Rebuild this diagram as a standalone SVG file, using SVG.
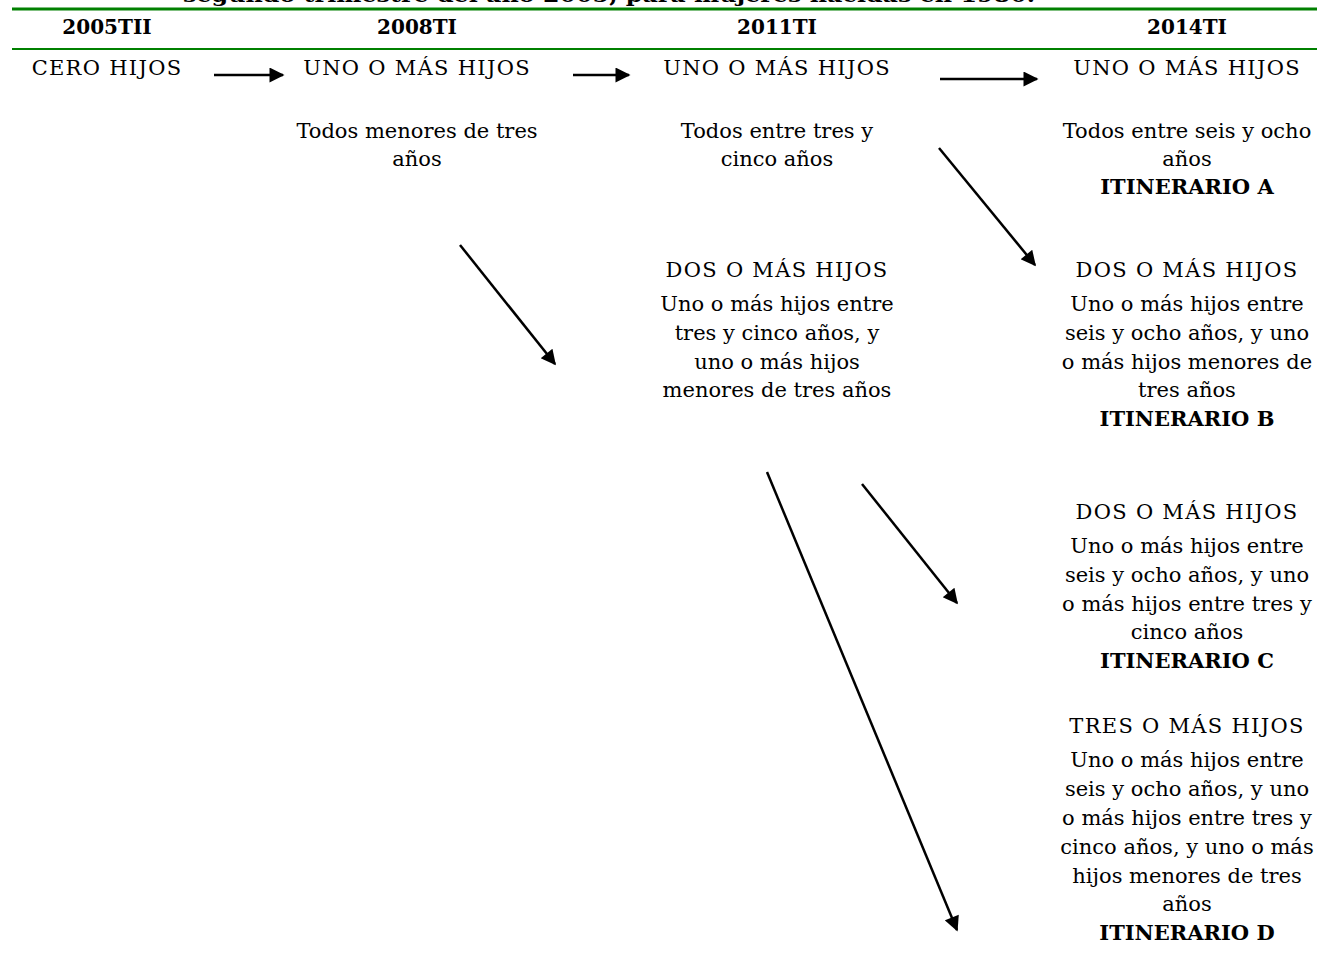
<svg xmlns="http://www.w3.org/2000/svg" width="1317" height="978" viewBox="0 0 1317 978">
<style>
text{font-family:"DejaVu Serif","Liberation Serif",serif;fill:#000;text-anchor:middle;}
.b{font-size:21px;}
.c{letter-spacing:1.3px;}
.h{font-size:20px;font-weight:bold;}
.it{font-size:21px;font-weight:bold;}
.con line{stroke:#000;stroke-width:2.5;}
</style>
<defs>
<marker id="ah" viewBox="0 0 10 10" refX="9" refY="5" markerWidth="7" markerHeight="6" markerUnits="strokeWidth" orient="auto">
<path d="M0,0L10,5L0,10z" fill="#000"/>
</marker>
</defs>
<rect width="1317" height="978" fill="#fff"/>
<text x="183" y="2" class="h" style="text-anchor:start" textLength="852" lengthAdjust="spacingAndGlyphs">segundo trimestre del año 2005, para mujeres nacidas en 1980.</text>
<line x1="12" y1="9" x2="1317" y2="9" stroke="#008000" stroke-width="3"/>
<line x1="12" y1="49" x2="1317" y2="49" stroke="#008000" stroke-width="2"/>
<g id="headers">
<text x="107" y="34" class="h">2005TII</text>
<text x="417" y="34" class="h">2008TI</text>
<text x="777" y="34" class="h">2011TI</text>
<text x="1187" y="34" class="h">2014TI</text>
</g>
<g id="n1"><text x="107" y="75" class="b c">CERO HIJOS</text></g>
<g id="n2">
<text x="417" y="75" class="b c">UNO O MÁS HIJOS</text>
<text x="417" y="138" class="b">Todos menores de tres</text>
<text x="417" y="166" class="b">años</text>
</g>
<g id="n3">
<text x="777" y="75" class="b c">UNO O MÁS HIJOS</text>
<text x="777" y="138" class="b">Todos entre tres y</text>
<text x="777" y="166" class="b">cinco años</text>
</g>
<g id="n4">
<text x="777" y="277" class="b c">DOS O MÁS HIJOS</text>
<text x="777" y="311" class="b">Uno o más hijos entre</text>
<text x="777" y="340" class="b">tres y cinco años, y</text>
<text x="777" y="369" class="b">uno o más hijos</text>
<text x="777" y="397" class="b">menores de tres años</text>
</g>
<g id="n5">
<text x="1187" y="75" class="b c">UNO O MÁS HIJOS</text>
<text x="1187" y="138" class="b">Todos entre seis y ocho</text>
<text x="1187" y="166" class="b">años</text>
<text x="1187" y="194" class="it">ITINERARIO A</text>
</g>
<g id="n6">
<text x="1187" y="277" class="b c">DOS O MÁS HIJOS</text>
<text x="1187" y="311" class="b">Uno o más hijos entre</text>
<text x="1187" y="340" class="b">seis y ocho años, y uno</text>
<text x="1187" y="369" class="b">o más hijos menores de</text>
<text x="1187" y="397" class="b">tres años</text>
<text x="1187" y="426" class="it">ITINERARIO B</text>
</g>
<g id="n7">
<text x="1187" y="519" class="b c">DOS O MÁS HIJOS</text>
<text x="1187" y="553" class="b">Uno o más hijos entre</text>
<text x="1187" y="582" class="b">seis y ocho años, y uno</text>
<text x="1187" y="611" class="b">o más hijos entre tres y</text>
<text x="1187" y="639" class="b">cinco años</text>
<text x="1187" y="668" class="it">ITINERARIO C</text>
</g>
<g id="n8">
<text x="1187" y="733" class="b c">TRES O MÁS HIJOS</text>
<text x="1187" y="767" class="b">Uno o más hijos entre</text>
<text x="1187" y="796" class="b">seis y ocho años, y uno</text>
<text x="1187" y="825" class="b">o más hijos entre tres y</text>
<text x="1187" y="854" class="b">cinco años, y uno o más</text>
<text x="1187" y="883" class="b">hijos menores de tres</text>
<text x="1187" y="911" class="b">años</text>
<text x="1187" y="940" class="it">ITINERARIO D</text>
</g>
<g id="connectors" class="con">
<line x1="214" y1="75" x2="283" y2="75" marker-end="url(#ah)"/>
<line x1="573" y1="75" x2="629" y2="75" marker-end="url(#ah)"/>
<line x1="940" y1="79" x2="1037" y2="79" marker-end="url(#ah)"/>
<line x1="460" y1="245" x2="555" y2="364" marker-end="url(#ah)"/>
<line x1="939" y1="148" x2="1035" y2="265" marker-end="url(#ah)"/>
<line x1="862" y1="484" x2="957" y2="603" marker-end="url(#ah)"/>
<line x1="767" y1="472" x2="957" y2="930" marker-end="url(#ah)"/>
</g>
</svg>
